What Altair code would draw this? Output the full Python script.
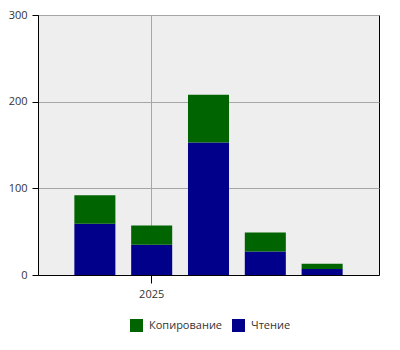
import altair as alt
import pandas as pd

periods = ["2024-12", "2025-01", "2025-02", "2025-03", "2025-04"]
reading = [59, 35, 153, 27, 7]
copying = [33, 22, 55, 22, 6]
series = ["Копирование", "Чтение"]
colors = ["#006400", "#00008b"]

rows = []
for p, r, c in zip(periods, reading, copying):
    rows.append({"period": p, "series": "Чтение", "value": r, "rank": 0})
    rows.append({"period": p, "series": "Копирование", "value": c, "rank": 1})
df = pd.DataFrame(rows)

FONT = "Open Sans"

chart = alt.Chart(df).mark_bar().encode(
    x=alt.X(
        "period:O",
        sort=periods,
        scale=alt.Scale(paddingInner=0.278, paddingOuter=0.64),
        axis=alt.Axis(
            values=["2025-01"],
            labelExpr="slice(datum.value, 0, 4)",
            title=None,
            labelAngle=0,
            grid=True,
            tickSize=8,
            labelPadding=5,
        ),
    ),
    y=alt.Y(
        "value:Q",
        stack="zero",
        scale=alt.Scale(domain=[0, 300], nice=False),
        axis=alt.Axis(values=[0, 100, 200, 300], title=None, tickSize=6, labelPadding=5),
    ),
    color=alt.Color(
        "series:N",
        scale=alt.Scale(domain=series, range=colors),
        legend=alt.Legend(
            orient="none",
            direction="horizontal",
            legendX=92,
            legendY=304,
            title=None,
            symbolType="square",
            symbolSize=169,
            symbolStrokeWidth=0,
            labelFontSize=11,
            labelFont=FONT,
            labelColor="#333333",
            columnPadding=9,
            labelOffset=6,
        ),
    ),
    order=alt.Order("rank:Q"),
).properties(
    width=341,
    height=260,
    background="white",
    autosize=alt.AutoSizeParams(type="none"),
    padding={"left": 38, "top": 15, "right": 21, "bottom": 75},
).configure_view(
    fill="#eeeeee", stroke="black", strokeWidth=1
).configure_axis(
    domainColor="black",
    tickColor="black",
    gridColor="#a6a6a6",
    labelFont=FONT,
    labelFontSize=11,
    labelColor="#333333",
)

chart.save("out.html", embed_options={"renderer": "svg", "actions": False})
